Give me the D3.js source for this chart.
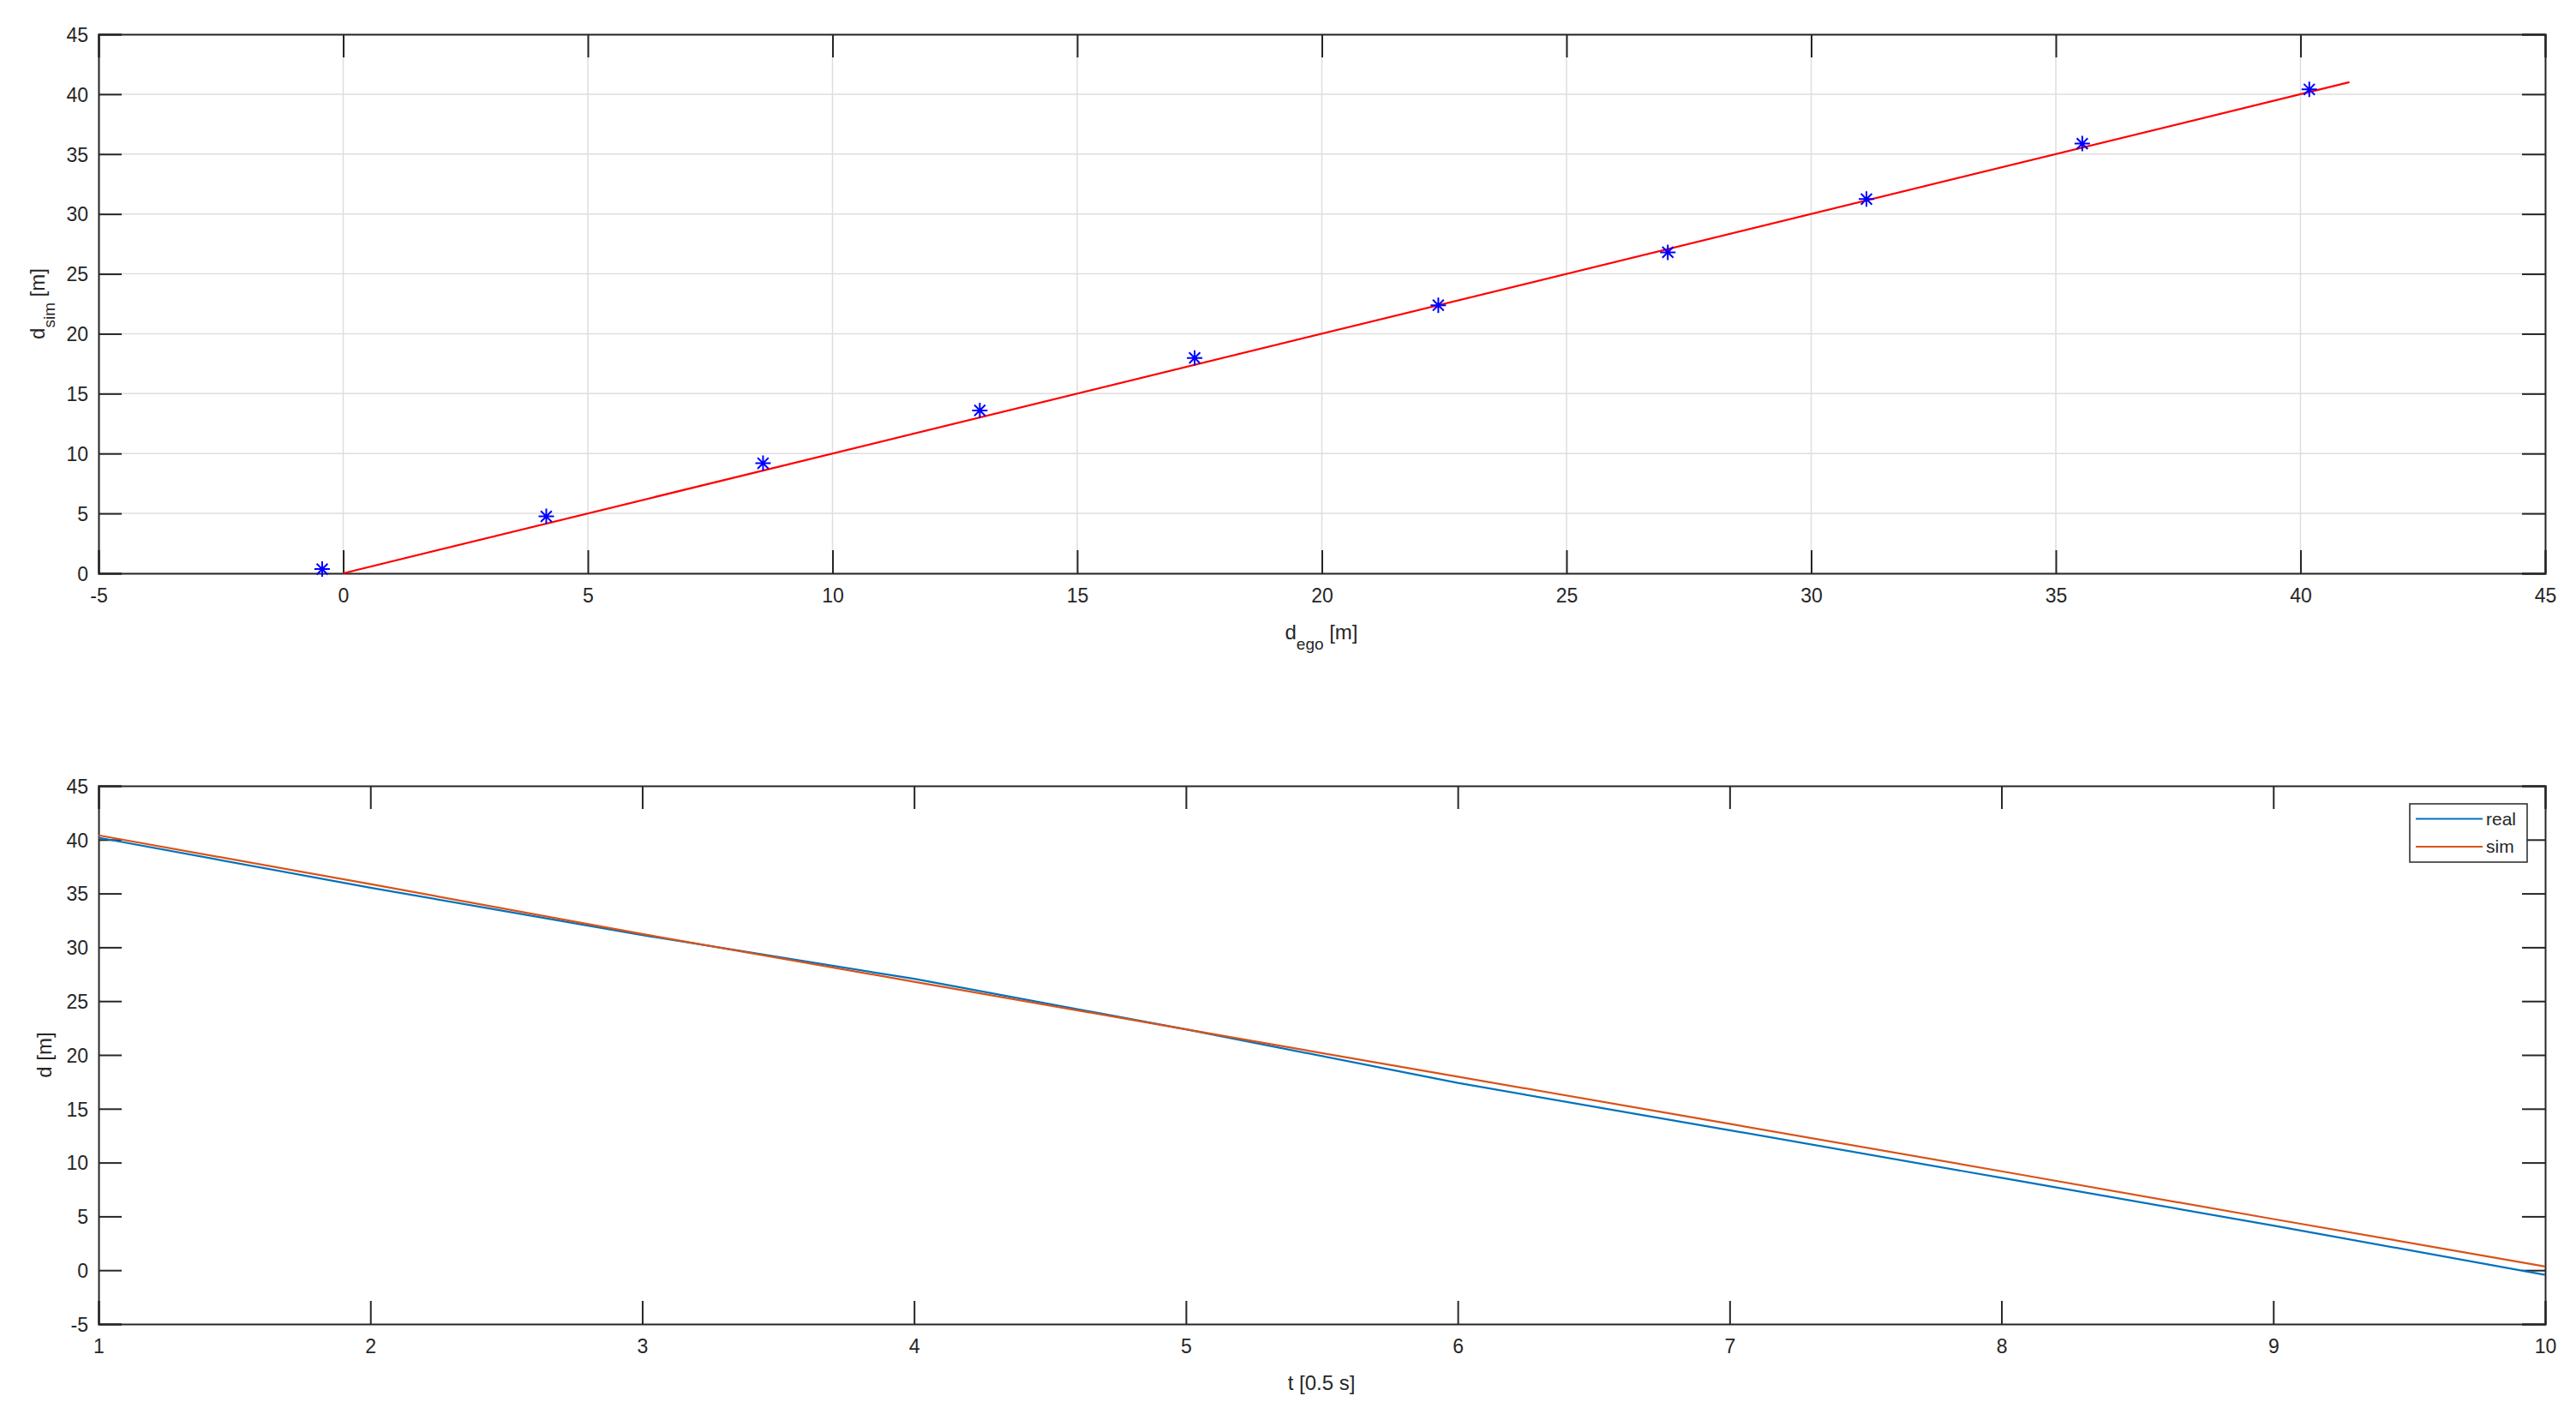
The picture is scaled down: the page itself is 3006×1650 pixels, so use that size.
<!DOCTYPE html>
<html>
<head>
<meta charset="utf-8">
<script src="https://cdn.jsdelivr.net/npm/d3@7"></script>
<style>
  html, body { margin: 0; padding: 0; background: #fff; }
  svg { display: block; }
  text { font-family: "Liberation Sans", Arial, Helvetica, sans-serif; fill: #262626; }
</style>
</head>
<body>
<svg id="chart" width="3006" height="1650"></svg>
<script>
// ---------- data ----------
const dEgo = [-0.43, 4.15, 8.58, 13.01, 17.40, 22.38, 27.07, 31.13, 35.54, 40.18];
const dSim = [0.35, 4.75, 9.19, 13.60, 17.98, 22.38, 26.80, 31.24, 35.87, 40.40];
const fitLine = [[0, 0], [41, 41]];
const tSteps = [1, 2, 3, 4, 5, 6, 7, 8, 9, 10];
const realSeries = [40.18, 35.54, 31.13, 27.07, 22.38, 17.40, 13.01, 8.58, 4.15, -0.43];
const simSeries = [40.40, 35.87, 31.24, 26.80, 22.38, 17.98, 13.60, 9.19, 4.75, 0.35];
const topXTicks = [-5, 0, 5, 10, 15, 20, 25, 30, 35, 40, 45];
const topYTicks = [0, 5, 10, 15, 20, 25, 30, 35, 40, 45];
const botXTicks = [1, 2, 3, 4, 5, 6, 7, 8, 9, 10];
const botYTicks = [-5, 0, 5, 10, 15, 20, 25, 30, 35, 40, 45];
const legendNames = ["real", "sim"];
const legendColors = ["#0072BD", "#D95319"];

const svg = d3.select("#chart");
const AX = "#262626";
const TICK = 27;
const L = 115, R = 2970;
const fmt = d => String(d);

function drawAxes(g, x, y, xt, yt, grid, top, bottom) {
  if (grid) {
    g.append("g").selectAll("line").data(xt).join("line")
      .attr("x1", d => x(d)).attr("x2", d => x(d))
      .attr("y1", top).attr("y2", bottom)
      .attr("stroke", "#dedede").attr("stroke-width", 1.5);
    g.append("g").selectAll("line").data(yt).join("line")
      .attr("x1", L).attr("x2", R)
      .attr("y1", d => y(d)).attr("y2", d => y(d))
      .attr("stroke", "#dedede").attr("stroke-width", 1.5);
  }
  const xa = g.append("g").attr("transform", `translate(0,${bottom})`)
    .call(d3.axisBottom(x).tickValues(xt).tickSize(-TICK).tickPadding(18).tickFormat(fmt));
  const xa2 = g.append("g").attr("transform", `translate(0,${top})`)
    .call(d3.axisTop(x).tickValues(xt).tickSize(-TICK).tickFormat(""));
  const ya = g.append("g").attr("transform", `translate(${L},0)`)
    .call(d3.axisLeft(y).tickValues(yt).tickSize(-TICK).tickPadding(12).tickFormat(fmt));
  const ya2 = g.append("g").attr("transform", `translate(${R},0)`)
    .call(d3.axisRight(y).tickValues(yt).tickSize(-TICK).tickFormat(""));
  [xa, xa2, ya, ya2].forEach(a => {
    a.attr("font-size", 23).attr("font-family", '"Liberation Sans", Arial, sans-serif');
    a.select(".domain").attr("stroke", AX).attr("stroke-width", 2);
    a.selectAll(".tick line").attr("stroke", AX).attr("stroke-width", 2);
    a.selectAll(".tick text").attr("font-size", 23).attr("fill", AX);
  });
  ya.selectAll(".tick text").attr("dy", "0.36em");
}

// ---------- top panel ----------
const t1 = 40, b1 = 669;
const x1 = d3.scaleLinear().domain([-5, 45]).range([L, R]);
const y1 = d3.scaleLinear().domain([0, 45]).range([b1, t1]);
const g1 = svg.append("g");
drawAxes(g1, x1, y1, topXTicks, topYTicks, true, t1, b1);

g1.append("path").datum(fitLine)
  .attr("d", d3.line().x(d => x1(d[0])).y(d => y1(d[1])))
  .attr("fill", "none").attr("stroke", "#FF0000").attr("stroke-width", 2.2);

const pts = dEgo.map((e, i) => [e, dSim[i]]);
const star = g1.append("g").selectAll("g").data(pts).join("g")
  .attr("transform", d => `translate(${x1(d[0])},${y1(d[1])})`);
const s = 9, sd = 6.4;
star.append("path")
  .attr("d", `M0,${-s}V${s}M${-s},0H${s}M${-sd},${-sd}L${sd},${sd}M${-sd},${sd}L${sd},${-sd}`)
  .attr("stroke", "#0000FF").attr("stroke-width", 2).attr("fill", "none");

const xl1 = svg.append("text").attr("x", 1542).attr("y", 746).attr("text-anchor", "middle").attr("font-size", 24);
xl1.append("tspan").text("d");
xl1.append("tspan").attr("font-size", 19).attr("dy", 12).text("ego");
xl1.append("tspan").attr("dy", -12).text(" [m]");

const yl1 = svg.append("text").attr("transform", `translate(52,${(t1 + b1) / 2}) rotate(-90)`)
  .attr("text-anchor", "middle").attr("font-size", 24);
yl1.append("tspan").text("d");
yl1.append("tspan").attr("font-size", 19).attr("dy", 12).text("sim");
yl1.append("tspan").attr("dy", -12).text(" [m]");

// ---------- bottom panel ----------
const t2 = 917, b2 = 1545;
const x2 = d3.scaleLinear().domain([1, 10]).range([L, R]);
const y2 = d3.scaleLinear().domain([-5, 45]).range([b2, t2]);
const g2 = svg.append("g");
drawAxes(g2, x2, y2, botXTicks, botYTicks, false, t2, b2);

const line2 = d3.line().x((d, i) => x2(tSteps[i])).y(d => y2(d));
g2.append("path").datum(realSeries).attr("d", line2)
  .attr("fill", "none").attr("stroke", legendColors[0]).attr("stroke-width", 2.2);
g2.append("path").datum(simSeries).attr("d", line2)
  .attr("fill", "none").attr("stroke", legendColors[1]).attr("stroke-width", 2.2);

svg.append("text").attr("x", 1542).attr("y", 1622).attr("text-anchor", "middle")
  .attr("font-size", 24).text("t [0.5 s]");
svg.append("text").attr("transform", `translate(60,${(t2 + b2) / 2}) rotate(-90)`)
  .attr("text-anchor", "middle").attr("font-size", 24).text("d [m]");

// legend
const lg = svg.append("g");
lg.append("rect").attr("x", 2812).attr("y", 938).attr("width", 137).attr("height", 68)
  .attr("fill", "#fff").attr("stroke", AX).attr("stroke-width", 1.5);
legendNames.forEach((n, i) => {
  const yy = 955.5 + i * 32.5;
  lg.append("line").attr("x1", 2819).attr("x2", 2897).attr("y1", yy).attr("y2", yy)
    .attr("stroke", legendColors[i]).attr("stroke-width", 2.2);
  lg.append("text").attr("x", 2901).attr("y", yy).attr("dy", "0.35em")
    .attr("font-size", 21).text(n);
});
</script>
</body>
</html>
